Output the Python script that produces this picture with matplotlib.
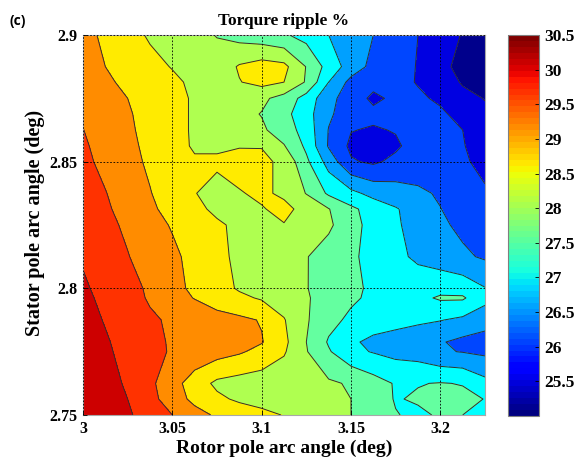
"""
Contour map of torque ripple against rotor and stator pole arc angle.
"""
import matplotlib
matplotlib.use("Agg")
import matplotlib.pyplot as plt
from matplotlib.cm import ScalarMappable
from matplotlib.colors import Normalize

rotor_angle = [3.0, 3.0125, 3.025, 3.0375, 3.05, 3.0625, 3.075, 3.0875, 3.1, 3.1125,
               3.125, 3.1375, 3.15, 3.1625, 3.175, 3.1875, 3.2, 3.2125, 3.225]
stator_angle = [2.9, 2.8875, 2.8814, 2.875, 2.8688, 2.8625, 2.8562, 2.85, 2.8375, 2.8313,
                2.825, 2.8125, 2.8, 2.7962, 2.7875, 2.7788, 2.775, 2.7625, 2.7563, 2.75]

# torque ripple %, one row per stator angle (top of the plot first)
ripple = [
    [29.20, 28.88, 28.65, 28.45, 28.27, 28.13, 27.98, 27.82, 27.70, 27.56, 27.32, 27.00, 26.75, 26.50, 26.25, 26.00, 25.75, 25.47, 25.20],
    [29.29, 29.00, 28.78, 28.62, 28.48, 28.33, 28.20, 28.55, 28.72, 28.63, 27.98, 27.30, 26.78, 26.35, 26.15, 25.98, 25.70, 25.28, 25.10],
    [29.35, 29.08, 28.90, 28.72, 28.58, 28.42, 28.25, 28.48, 28.65, 28.50, 27.95, 27.00, 26.35, 26.15, 26.10, 25.98, 25.78, 25.45, 25.25],
    [29.40, 29.15, 29.00, 28.82, 28.63, 28.45, 28.30, 28.20, 28.10, 27.82, 27.30, 26.65, 26.25, 25.90, 26.10, 26.05, 25.95, 25.65, 25.48],
    [29.46, 29.20, 29.05, 28.83, 28.63, 28.45, 28.32, 28.15, 27.98, 27.65, 27.20, 26.58, 26.22, 26.12, 26.12, 26.10, 26.05, 25.90, 25.60],
    [29.51, 29.25, 29.08, 28.85, 28.63, 28.45, 28.35, 28.20, 28.08, 27.75, 27.30, 26.48, 26.02, 25.95, 26.03, 26.15, 26.08, 26.00, 25.69],
    [29.57, 29.32, 29.10, 28.90, 28.66, 28.45, 28.40, 28.47, 28.48, 28.03, 27.40, 26.45, 25.90, 25.78, 25.92, 26.22, 26.15, 26.03, 25.77],
    [29.62, 29.37, 29.14, 28.93, 28.72, 28.55, 28.60, 28.68, 28.60, 28.40, 27.60, 26.80, 26.05, 25.92, 26.12, 26.25, 26.15, 26.07, 25.86],
    [29.73, 29.52, 29.25, 29.02, 28.78, 28.52, 28.30, 28.47, 28.58, 28.42, 27.98, 27.42, 27.13, 26.85, 26.72, 26.58, 26.45, 26.28, 26.06],
    [29.79, 29.57, 29.33, 29.08, 28.85, 28.62, 28.40, 28.36, 28.47, 28.62, 28.35, 28.02, 27.60, 27.30, 27.04, 26.78, 26.51, 26.32, 26.13],
    [29.84, 29.62, 29.42, 29.18, 28.96, 28.72, 28.57, 28.40, 28.40, 28.48, 28.35, 28.08, 27.70, 27.30, 27.07, 26.80, 26.58, 26.40, 26.24],
    [29.95, 29.72, 29.52, 29.30, 29.10, 28.85, 28.62, 28.40, 28.30, 28.17, 28.02, 27.80, 27.58, 27.35, 27.13, 26.90, 26.75, 26.58, 26.44],
    [30.07, 29.85, 29.65, 29.43, 29.15, 28.90, 28.68, 28.45, 28.30, 28.15, 28.02, 27.78, 27.60, 27.42, 27.28, 27.30, 27.35, 27.30, 27.02],
    [30.10, 29.90, 29.68, 29.45, 29.20, 28.98, 28.75, 28.60, 28.45, 28.27, 28.05, 27.78, 27.58, 27.40, 27.32, 27.38, 27.56, 27.56, 27.15],
    [30.18, 29.97, 29.77, 29.57, 29.43, 29.32, 29.20, 29.10, 28.97, 28.53, 28.05, 27.65, 27.40, 27.32, 27.20, 27.10, 27.02, 26.90, 26.70],
    [30.27, 30.05, 29.83, 29.62, 29.45, 29.35, 29.22, 29.12, 29.03, 28.62, 28.00, 27.45, 27.10, 26.85, 26.75, 26.65, 26.54, 26.38, 26.30],
    [30.30, 30.08, 29.85, 29.62, 29.46, 29.35, 29.20, 29.06, 28.85, 28.55, 28.03, 27.55, 27.12, 26.97, 26.85, 26.78, 26.55, 26.48, 26.40],
    [30.40, 30.20, 29.93, 29.60, 29.20, 28.75, 28.40, 28.30, 28.25, 28.20, 28.15, 28.07, 27.95, 27.70, 27.46, 27.48, 27.52, 27.48, 27.15],
    [30.43, 30.22, 30.00, 29.66, 29.25, 28.87, 28.60, 28.42, 28.32, 28.26, 28.20, 28.10, 28.00, 27.72, 27.47, 27.55, 27.62, 27.60, 27.49],
    [30.45, 30.25, 30.06, 29.80, 29.50, 29.18, 28.93, 28.78, 28.63, 28.48, 28.30, 28.15, 28.00, 27.75, 27.52, 27.42, 27.55, 27.50, 27.40],
]

levels = [25, 25.5, 26, 26.5, 27, 27.5, 28, 28.5, 29, 29.5, 30, 30.5]
band_colors = ["#00008c", "#0000e1", "#0046ff", "#00a0ff", "#00ffff", "#64ffa0",
               "#afff50", "#ffeb00", "#ff8c00", "#ff3200", "#cd0000"]
x_ticks = [3, 3.05, 3.1, 3.15, 3.2]
x_labels = ["3", "3.05", "3.1", "3.15", "3.2"]
y_ticks = [2.75, 2.8, 2.85, 2.9]
y_labels = ["2.75", "2.8", "2.85", "2.9"]
bar_ticks = [25.5, 26, 26.5, 27, 27.5, 28, 28.5, 29, 29.5, 30, 30.5]
bar_labels = ["25.5", "26", "26.5", "27", "27.5", "28", "28.5", "29", "29.5", "30", "30.5"]

W, H = 583, 463
SERIF = "Liberation Serif"


def main():
    fig = plt.figure(figsize=(W / 100, H / 100), dpi=100)
    ax = fig.add_axes([83 / W, 1 - 415 / H, 402 / W, 380 / H])
    cax = fig.add_axes([508 / W, 1 - 416 / H, 31 / W, 381 / H])

    ax.contourf(rotor_angle, stator_angle, ripple, levels=levels, colors=band_colors)
    ax.contour(rotor_angle, stator_angle, ripple, levels=levels[1:-1],
               colors="#303030", linewidths=0.7)
    ax.set_xlim(3, 3.225)
    ax.set_ylim(2.75, 2.9)
    ax.set_xticks(x_ticks, x_labels, fontfamily=SERIF, fontweight="bold", fontsize=11.5)
    ax.set_yticks(y_ticks, y_labels, fontfamily=SERIF, fontweight="bold", fontsize=11.5)
    ax.tick_params(direction="in", length=3, width=0.6, pad=4)
    ax.grid(True, color="black", linestyle=(0, (2, 2)), linewidth=0.6)
    ax.set_axisbelow(False)
    for spine in ax.spines.values():
        spine.set_color("#a8a8a8")

    ax.set_xlabel("Rotor pole arc angle (deg)", fontfamily=SERIF, fontweight="bold",
                  fontsize=14, labelpad=2)
    ax.set_ylabel("Stator pole arc angle (deg)", fontfamily=SERIF, fontweight="bold",
                  fontsize=14.5, labelpad=3, y=0.505)
    ax.set_title("Torqure ripple %", fontfamily=SERIF, fontweight="bold", fontsize=12.5, pad=7)

    mappable = ScalarMappable(Normalize(25, 30.5), plt.get_cmap("jet", 64))
    bar = fig.colorbar(mappable, cax=cax)
    bar.set_ticks(bar_ticks, labels=bar_labels, fontfamily=SERIF, fontweight="bold", fontsize=12.5)
    bar.ax.tick_params(direction="in", length=3, width=0.6, pad=4)
    bar.outline.set_edgecolor("#808080")

    fig.text(10 / W, 1 - 25 / H, "(c)", fontfamily="Open Sans", fontweight="bold", fontsize=10)
    fig.savefig("out.png", dpi=100)


if __name__ == "__main__":
    main()
